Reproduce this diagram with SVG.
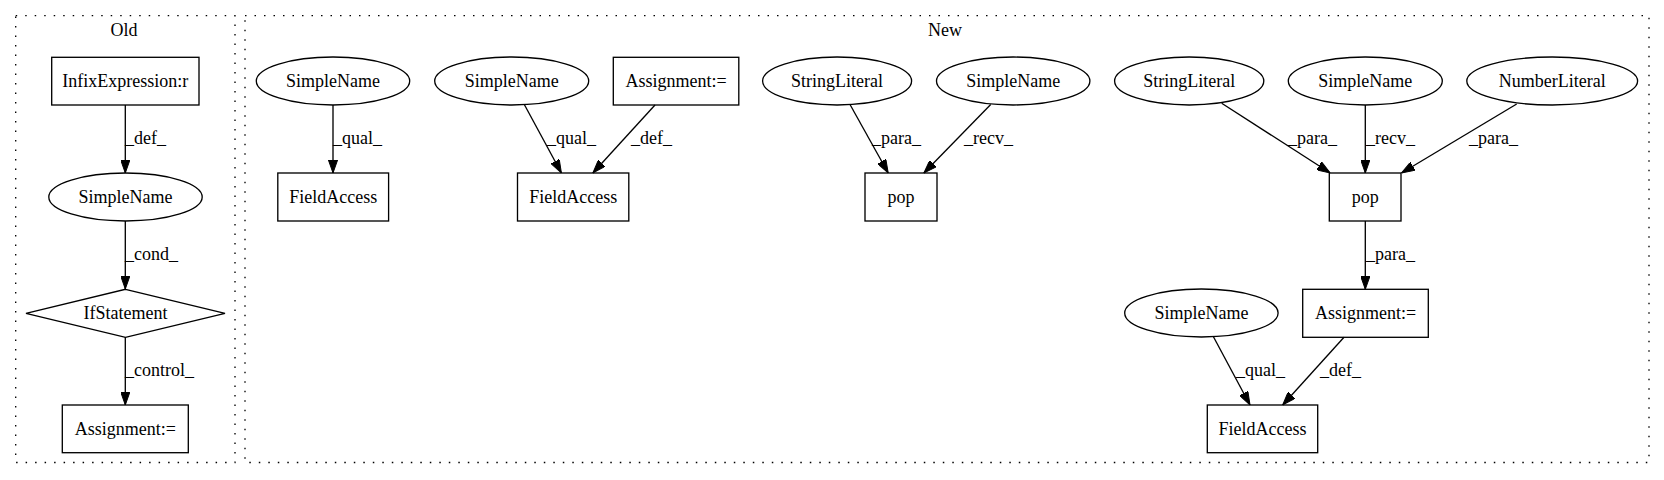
<svg xmlns="http://www.w3.org/2000/svg" width="1664" height="480" viewBox="0 0 1664 480">
<style>
  text { font-family: 'Liberation Serif', 'Times New Roman', serif; font-size: 18px; fill: #000; }
  .n { text-anchor: middle; }
  .shape { fill: none; stroke: #000; stroke-width: 1.33; }
  .cluster { fill: none; stroke: #000; stroke-width: 1.33; stroke-dasharray: 1.5,8; }
  .edge { fill: none; stroke: #000; stroke-width: 1.33; marker-end: url(#arrow); }
</style>
<defs>
  <marker id="arrow" viewBox="0 0 13.3 9.4" refX="13.3" refY="4.7" markerWidth="13.3" markerHeight="9.4" markerUnits="userSpaceOnUse" orient="auto">
    <path d="M0,0 L13.3,4.7 L0,9.4 z" fill="#000" stroke="#000" stroke-width="1"/>
  </marker>
</defs>
<rect width="1664" height="480" fill="#fff"/>

<g id="cluster_old">
  <rect class="cluster" x="15.7" y="15.7" width="219.3" height="446.8"/>
  <text class="n" x="124" y="36">Old</text>
</g>
<g id="cluster_new">
  <rect class="cluster" x="245" y="15.7" width="1404" height="446.8"/>
  <text class="n" x="945" y="36">New</text>
</g>

<g id="edges">
  <line class="edge" x1="125.3" y1="105" x2="125.3" y2="173"/>
  <text x="125" y="144">_def_</text>
  <line class="edge" x1="125.3" y1="221" x2="125.3" y2="289"/>
  <text x="125" y="260">_cond_</text>
  <line class="edge" x1="125.3" y1="337" x2="125.3" y2="405"/>
  <text x="125" y="376">_control_</text>

  <line class="edge" x1="333" y1="105" x2="333" y2="173"/>
  <text x="333" y="144">_qual_</text>
  <line class="edge" x1="524.3" y1="104.5" x2="561.4" y2="173"/>
  <text x="547" y="144">_qual_</text>
  <line class="edge" x1="655" y1="105" x2="592.9" y2="173"/>
  <text x="631" y="144">_def_</text>

  <line class="edge" x1="850" y1="104.5" x2="888.2" y2="173"/>
  <text x="872" y="144">_para_</text>
  <line class="edge" x1="990.7" y1="104.5" x2="923.9" y2="173"/>
  <text x="964" y="144">_recv_</text>

  <line class="edge" x1="1221.7" y1="103.3" x2="1330.2" y2="173"/>
  <text x="1288" y="144">_para_</text>
  <line class="edge" x1="1365.3" y1="105" x2="1365.3" y2="173"/>
  <text x="1366" y="144">_recv_</text>
  <line class="edge" x1="1516.7" y1="104" x2="1401.5" y2="173"/>
  <text x="1469" y="144">_para_</text>

  <line class="edge" x1="1365.3" y1="221" x2="1365.3" y2="289.3"/>
  <text x="1366" y="260">_para_</text>

  <line class="edge" x1="1213.3" y1="336.5" x2="1250" y2="405"/>
  <text x="1236" y="376">_qual_</text>
  <line class="edge" x1="1344" y1="337.3" x2="1282.7" y2="405"/>
  <text x="1320" y="376">_def_</text>
</g>

<g id="old_infix">
  <rect class="shape" x="51.7" y="57.3" width="147.3" height="47.7"/>
  <text class="n" x="125.3" y="87">InfixExpression:r</text>
</g>
<g id="old_simplename">
  <ellipse class="shape" cx="125.5" cy="197" rx="76.7" ry="24"/>
  <text class="n" x="125.5" y="203">SimpleName</text>
</g>
<g id="old_ifstatement">
  <polygon class="shape" points="125.5,289.3 225,313.3 125.5,337.3 26,313.3"/>
  <text class="n" x="125.5" y="319">IfStatement</text>
</g>
<g id="old_assignment">
  <rect class="shape" x="62.3" y="405" width="126" height="47.7"/>
  <text class="n" x="125.3" y="435">Assignment:=</text>
</g>

<g id="new_simplename1">
  <ellipse class="shape" cx="333" cy="81" rx="76.7" ry="24"/>
  <text class="n" x="333" y="87">SimpleName</text>
</g>
<g id="new_fieldaccess1">
  <rect class="shape" x="277.8" y="173" width="110.8" height="48"/>
  <text class="n" x="333.2" y="203">FieldAccess</text>
</g>
<g id="new_simplename2">
  <ellipse class="shape" cx="511.7" cy="81" rx="77" ry="24"/>
  <text class="n" x="511.7" y="87">SimpleName</text>
</g>
<g id="new_fieldaccess2">
  <rect class="shape" x="517.5" y="173" width="111.3" height="48"/>
  <text class="n" x="573.2" y="203">FieldAccess</text>
</g>
<g id="new_assignment1">
  <rect class="shape" x="613.3" y="57.3" width="125.5" height="47.7"/>
  <text class="n" x="676" y="87">Assignment:=</text>
</g>
<g id="new_stringliteral1">
  <ellipse class="shape" cx="837.1" cy="81" rx="74.5" ry="24"/>
  <text class="n" x="837.1" y="87">StringLiteral</text>
</g>
<g id="new_simplename3">
  <ellipse class="shape" cx="1013.2" cy="81" rx="76.7" ry="24"/>
  <text class="n" x="1013.2" y="87">SimpleName</text>
</g>
<g id="new_pop1">
  <rect class="shape" x="865" y="173" width="72" height="48"/>
  <text class="n" x="901" y="203">pop</text>
</g>
<g id="new_stringliteral2">
  <ellipse class="shape" cx="1189.2" cy="81" rx="74.6" ry="24"/>
  <text class="n" x="1189.2" y="87">StringLiteral</text>
</g>
<g id="new_simplename4">
  <ellipse class="shape" cx="1365.3" cy="81" rx="77" ry="24"/>
  <text class="n" x="1365.3" y="87">SimpleName</text>
</g>
<g id="new_numberliteral">
  <ellipse class="shape" cx="1552.2" cy="81" rx="85.4" ry="24"/>
  <text class="n" x="1552.2" y="87">NumberLiteral</text>
</g>
<g id="new_pop2">
  <rect class="shape" x="1329.3" y="173" width="71.7" height="48"/>
  <text class="n" x="1365.2" y="203">pop</text>
</g>
<g id="new_assignment2">
  <rect class="shape" x="1302.7" y="289.3" width="125.6" height="48"/>
  <text class="n" x="1365.5" y="319">Assignment:=</text>
</g>
<g id="new_simplename5">
  <ellipse class="shape" cx="1201.4" cy="313" rx="76.7" ry="24"/>
  <text class="n" x="1201.4" y="319">SimpleName</text>
</g>
<g id="new_fieldaccess3">
  <rect class="shape" x="1207.3" y="405" width="110.4" height="47.7"/>
  <text class="n" x="1262.5" y="435">FieldAccess</text>
</g>
</svg>
